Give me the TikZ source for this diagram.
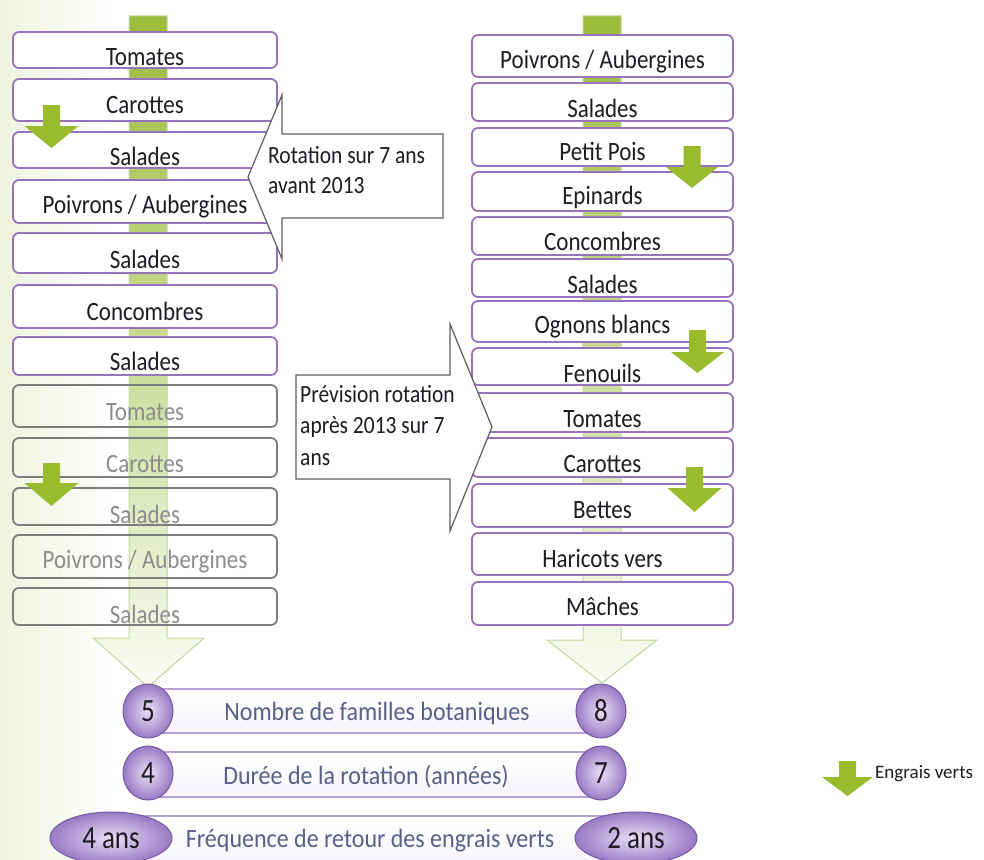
\documentclass[tikz,border=0pt]{standalone}
\usepackage{fontspec}
\setmainfont{Carlito}
\usepackage{graphicx}
\usetikzlibrary{shapes.geometric}
\definecolor{purp}{RGB}{150,115,188}
\definecolor{greyb}{RGB}{125,125,125}
\definecolor{greyt}{RGB}{140,140,140}
\definecolor{barg}{RGB}{155,187,59}
\definecolor{barl}{RGB}{195,214,155}
\definecolor{engr}{RGB}{155,187,47}
\definecolor{callline}{RGB}{95,95,95}
\definecolor{ballin}{RGB}{234,225,247}
\definecolor{ballout}{RGB}{152,122,196}
\definecolor{ballline}{RGB}{118,88,165}
\definecolor{rowline}{RGB}{182,162,214}
\definecolor{rowtext}{RGB}{90,95,135}
\definecolor{txt}{RGB}{28,28,34}
\definecolor{bgl}{RGB}{238,243,222}
\newcommand{\cropbox}[9]{%
  \node[#1, minimum width=#5pt, minimum height={(#7-#6)*1pt}] (#3) at (#4,{(#6+#7)/2}) {};
  \node[#2] (#3-t) at (#4,#8) {\scalebox{1}[1.15]{#9}};
}
\newcommand{\engrais}[5]{%
  \fill[engr] ({#1-8.5},#2) -- ({#1+8.5},#2) -- ({#1+8.5},#3) -- ({#1+#5},#3) -- (#1,#4) -- ({#1-#5},#3) -- ({#1-8.5},#3) -- cycle;
}
\begin{document}
\begin{tikzpicture}[x=1pt,y=-1pt,
  cbox/.style={draw=purp, line width=1.8pt, rounded corners=6pt, fill=white, inner sep=0pt},
  gbox/.style={draw=greyb, line width=1.8pt, rounded corners=6pt, inner sep=0pt},
  btext/.style={text=txt, inner sep=0pt, anchor=base, font=\fontsize{23}{28}\selectfont},
  gtext/.style={btext, text=greyt},
  callout/.style={draw=callline, line width=1.2pt, fill=white, line join=miter},
  ctext/.style={text=txt, inner sep=0pt, anchor=base west, font=\fontsize{21.5}{26}\selectfont},
  bigarrow/.style={draw=barl, line width=1pt, top color=barg, middle color=barg!55!white, bottom color=barg!6!white},
  rowbar/.style={draw=rowline, line width=1.5pt, top color=white, bottom color=rowline!12!white, inner sep=0pt},
  ball/.style={ellipse, draw=ballline, line width=1pt, inner color=ballin, outer color=ballout, inner sep=0pt, text=txt, font=\fontsize{27}{30}\selectfont},
  rtext/.style={text=rowtext, inner sep=0pt, anchor=base, font=\fontsize{24}{28}\selectfont},
  legtext/.style={text=txt, inner sep=0pt, anchor=base west, font=\fontsize{19}{22}\selectfont}
]
\clip (0,0) rectangle (984,859);
\fill[white] (0,0) rectangle (984,859);
\fill[left color=bgl, right color=white] (0,0) rectangle (115,859);

% big green arrows
\draw[bigarrow] (129,16) -- (167,16) -- (167,638) -- (204,638) -- (148,687) -- (93,638) -- (129,638) -- cycle;
\draw[bigarrow] (583,16) -- (621,16) -- (621,640) -- (657,640) -- (602,683) -- (547,640) -- (583,640) -- cycle;

% left column (before 2013)
\cropbox{cbox}{btext}{l1}{145}{264}{32}{68}{66}{Tomates}
\cropbox{cbox}{btext}{l2}{145}{264}{79}{121}{113}{Carottes}
\cropbox{cbox}{btext}{l3}{145}{264}{132}{168}{165}{Salades}
\cropbox{cbox}{btext}{l4}{145}{264}{180}{223}{213}{Poivrons / Aubergines}
\cropbox{cbox}{btext}{l5}{145}{264}{233}{273}{268}{Salades}
\cropbox{cbox}{btext}{l6}{145}{264}{285}{328}{320}{Concombres}
\cropbox{cbox}{btext}{l7}{145}{264}{337}{375}{370}{Salades}
\cropbox{gbox}{gtext}{g1}{145}{264}{385}{427}{420}{Tomates}
\cropbox{gbox}{gtext}{g2}{145}{264}{438}{477}{472}{Carottes}
\cropbox{gbox}{gtext}{g3}{145}{264}{488}{525}{523}{Salades}
\cropbox{gbox}{gtext}{g4}{145}{264}{535}{578}{568}{Poivrons / Aubergines}
\cropbox{gbox}{gtext}{g5}{145}{264}{588}{625}{623}{Salades}

% right column (after 2013)
\cropbox{cbox}{btext}{r1}{602.5}{261}{35}{77}{68}{Poivrons / Aubergines}
\cropbox{cbox}{btext}{r2}{602.5}{261}{83}{121}{117}{Salades}
\cropbox{cbox}{btext}{r3}{602.5}{261}{128}{166}{160}{Petit Pois}
\cropbox{cbox}{btext}{r4}{602.5}{261}{172}{211}{204}{Epinards}
\cropbox{cbox}{btext}{r5}{602.5}{261}{217}{255}{250}{Concombres}
\cropbox{cbox}{btext}{r6}{602.5}{261}{259}{297}{293}{Salades}
\cropbox{cbox}{btext}{r7}{602.5}{261}{301}{342}{333}{Ognons blancs}
\cropbox{cbox}{btext}{r8}{602.5}{261}{348}{385}{382}{Fenouils}
\cropbox{cbox}{btext}{r9}{602.5}{261}{393}{432}{427}{Tomates}
\cropbox{cbox}{btext}{r10}{602.5}{261}{438}{477}{472}{Carottes}
\cropbox{cbox}{btext}{r11}{602.5}{261}{484}{527}{518}{Bettes}
\cropbox{cbox}{btext}{r12}{602.5}{261}{533}{575}{567}{Haricots vers}
\cropbox{cbox}{btext}{r13}{602.5}{261}{582}{625}{615}{Mâches}

% callouts
\draw[callout] (443,134) -- (282,134) -- (282,95) -- (248,177) -- (282,259) -- (282,218) -- (443,218) -- cycle;
\node[ctext] (c1a) at (268,163) {\scalebox{1}[1.15]{Rotation sur 7 ans}};
\node[ctext] (c1b) at (268,193) {\scalebox{1}[1.15]{avant 2013}};
\draw[callout] (296,375) -- (450,375) -- (450,324) -- (492,427) -- (450,531) -- (450,479) -- (296,479) -- cycle;
\node[ctext] (c2a) at (300,402) {\scalebox{1}[1.15]{Prévision rotation}};
\node[ctext] (c2b) at (300,433) {\scalebox{1}[1.15]{après 2013 sur 7}};
\node[ctext] (c2c) at (300,465) {\scalebox{1}[1.15]{ans}};

% engrais verts arrows
\engrais{51.5}{105}{126}{148}{27}
\engrais{51.5}{463}{483}{506}{27}
\engrais{692}{146}{167}{188}{26}
\engrais{697.5}{330}{352}{373}{26.5}
\engrais{694.5}{467}{488}{512}{27}

% bottom comparison rows
\node[rowbar, minimum width=453pt, minimum height=44pt] (bar1) at (374.5,711) {};
\node[rowbar, minimum width=453pt, minimum height=45pt] (bar2) at (374.5,774.5) {};
\node[rowbar, minimum width=525pt, minimum height=54pt] (bar3) at (373.5,843) {};
\node[rtext] (t1) at (377,720) {\scalebox{1}[1.1]{Nombre de familles botaniques}};
\node[rtext] (t2) at (366,784) {\scalebox{1}[1.1]{Durée de la rotation (années)}};
\node[rtext] (t3) at (370,847) {\scalebox{1}[1.1]{Fréquence de retour des engrais verts}};
\node[ball, minimum width=50pt, minimum height=54pt] (n5) at (148,711) {\scalebox{1}[1.2]{5}};
\node[ball, minimum width=50pt, minimum height=54pt] (n8) at (601,711) {\scalebox{1}[1.2]{8}};
\node[ball, minimum width=50pt, minimum height=54pt] (n4) at (148,773) {\scalebox{1}[1.2]{4}};
\node[ball, minimum width=50pt, minimum height=54pt] (n7) at (601,773) {\scalebox{1}[1.2]{7}};
\node[ball, minimum width=122pt, minimum height=52pt] (a4) at (111,838) {\scalebox{1}[1.2]{4 ans}};
\node[ball, minimum width=122pt, minimum height=52pt] (a2) at (636,838) {\scalebox{1}[1.2]{2 ans}};

% legend
\engrais{847.5}{761}{777}{796}{25.5}
\node[legtext] (leg) at (875,778) {Engrais verts};
\end{tikzpicture}
\end{document}
